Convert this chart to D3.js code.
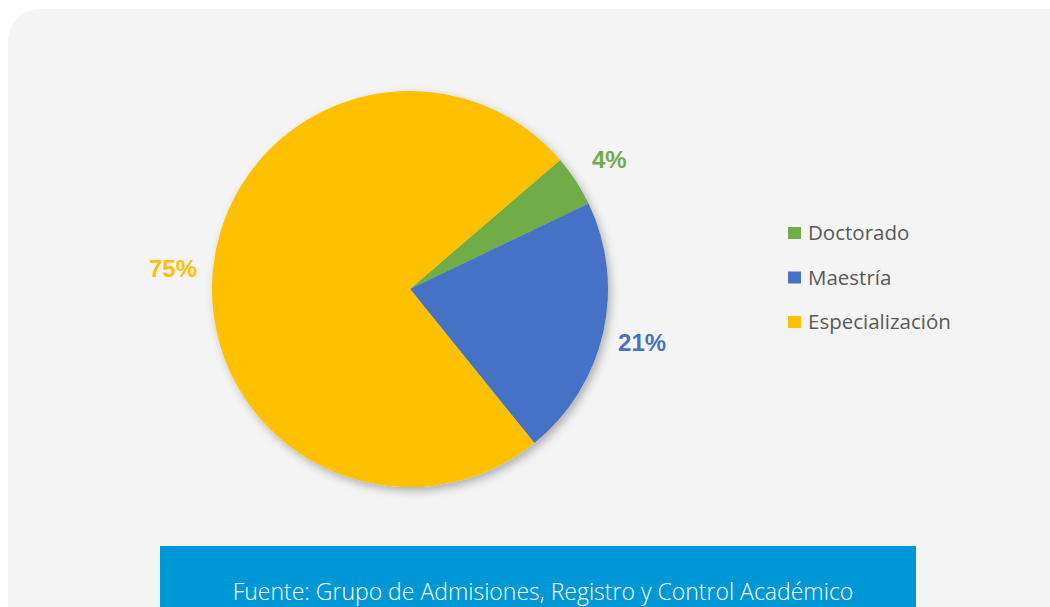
<!DOCTYPE html>
<html>
<head>
<meta charset="utf-8">
<script src="https://cdn.jsdelivr.net/npm/d3@7"></script>
<style>
	body { margin: 0; background: #ffffff; }
	svg { display: block; }
</style>
</head>
<body>
<script>
const categories = ['Doctorado', 'Maestría', 'Especialización'];
const values = [4.2, 21.3, 74.5];
const colors = ['#70ad47', '#4472c4', '#ffc000'];
const sourceText = 'Fuente: Grupo de Admisiones, Registro y Control Académico';

const width = 1050;
const height = 607;

const svg = d3.select('body')
	.append('svg')
	.attr('width', width)
	.attr('height', height);

const defs = svg.append('defs');
const shadow = defs.append('filter')
	.attr('id', 'pie-shadow')
	.attr('x', '-20%').attr('y', '-20%')
	.attr('width', '140%').attr('height', '140%');
shadow.append('feDropShadow')
	.attr('dx', 3)
	.attr('dy', 4)
	.attr('stdDeviation', 4)
	.attr('flood-color', '#000')
	.attr('flood-opacity', 0.28);

// panel background
svg.append('rect')
	.attr('x', 8)
	.attr('y', 9)
	.attr('width', 1080)
	.attr('height', 660)
	.attr('rx', 32)
	.attr('fill', '#f4f4f4');

const cx = 410, cy = 289, radius = 198;

const pie = d3.pie()
	.sort(null)
	.startAngle(49.3 * Math.PI / 180)
	.endAngle(49.3 * Math.PI / 180 + 2 * Math.PI)
	.value(d => d);

const arcs = pie(values);

const arc = d3.arc().innerRadius(0).outerRadius(radius);
const labelArc = d3.arc().innerRadius(238).outerRadius(238);

const g = svg.append('g')
	.attr('transform', `translate(${cx}, ${cy})`);

g.append('g')
	.attr('filter', 'url(#pie-shadow)')
	.selectAll('path')
	.data(arcs)
	.enter().append('path')
	.attr('d', arc)
	.attr('fill', (d, i) => colors[i]);

g.selectAll('.pct')
	.data(arcs)
	.enter().append('text')
	.attr('class', 'pct')
	.attr('transform', d => `translate(${labelArc.centroid(d)})`)
	.attr('text-anchor', 'middle')
	.attr('dy', '0.38em')
	.style('font-family', '"Liberation Sans", Arial, sans-serif')
	.style('font-weight', 'bold')
	.style('font-size', '24px')
	.attr('fill', (d, i) => colors[i])
	.text(d => Math.round(d.data) + '%');

// legend
const legend = svg.append('g')
	.attr('transform', 'translate(788, 233)');

const entries = legend.selectAll('.legend-entry')
	.data(categories)
	.enter().append('g')
	.attr('class', 'legend-entry')
	.attr('transform', (d, i) => `translate(0, ${i * 44.5})`);

entries.append('rect')
	.attr('x', 0)
	.attr('y', -6)
	.attr('width', 13)
	.attr('height', 12)
	.attr('fill', (d, i) => colors[i]);

entries.append('text')
	.attr('x', 20)
	.attr('dy', '0.36em')
	.style('font-family', '"Open Sans", sans-serif')
	.style('font-size', '20.5px')
	.attr('fill', '#595959')
	.text(d => d);

// source banner
svg.append('rect')
	.attr('x', 160)
	.attr('y', 546)
	.attr('width', 756)
	.attr('height', 70)
	.attr('fill', '#0097d6');

svg.append('text')
	.attr('x', 543)
	.attr('y', 600)
	.attr('text-anchor', 'middle')
	.style('font-family', '"Open Sans", sans-serif')
	.style('font-weight', 300)
	.style('font-size', '23px')
	.attr('fill', '#ffffff')
	.text(sourceText);
</script>
</body>
</html>
